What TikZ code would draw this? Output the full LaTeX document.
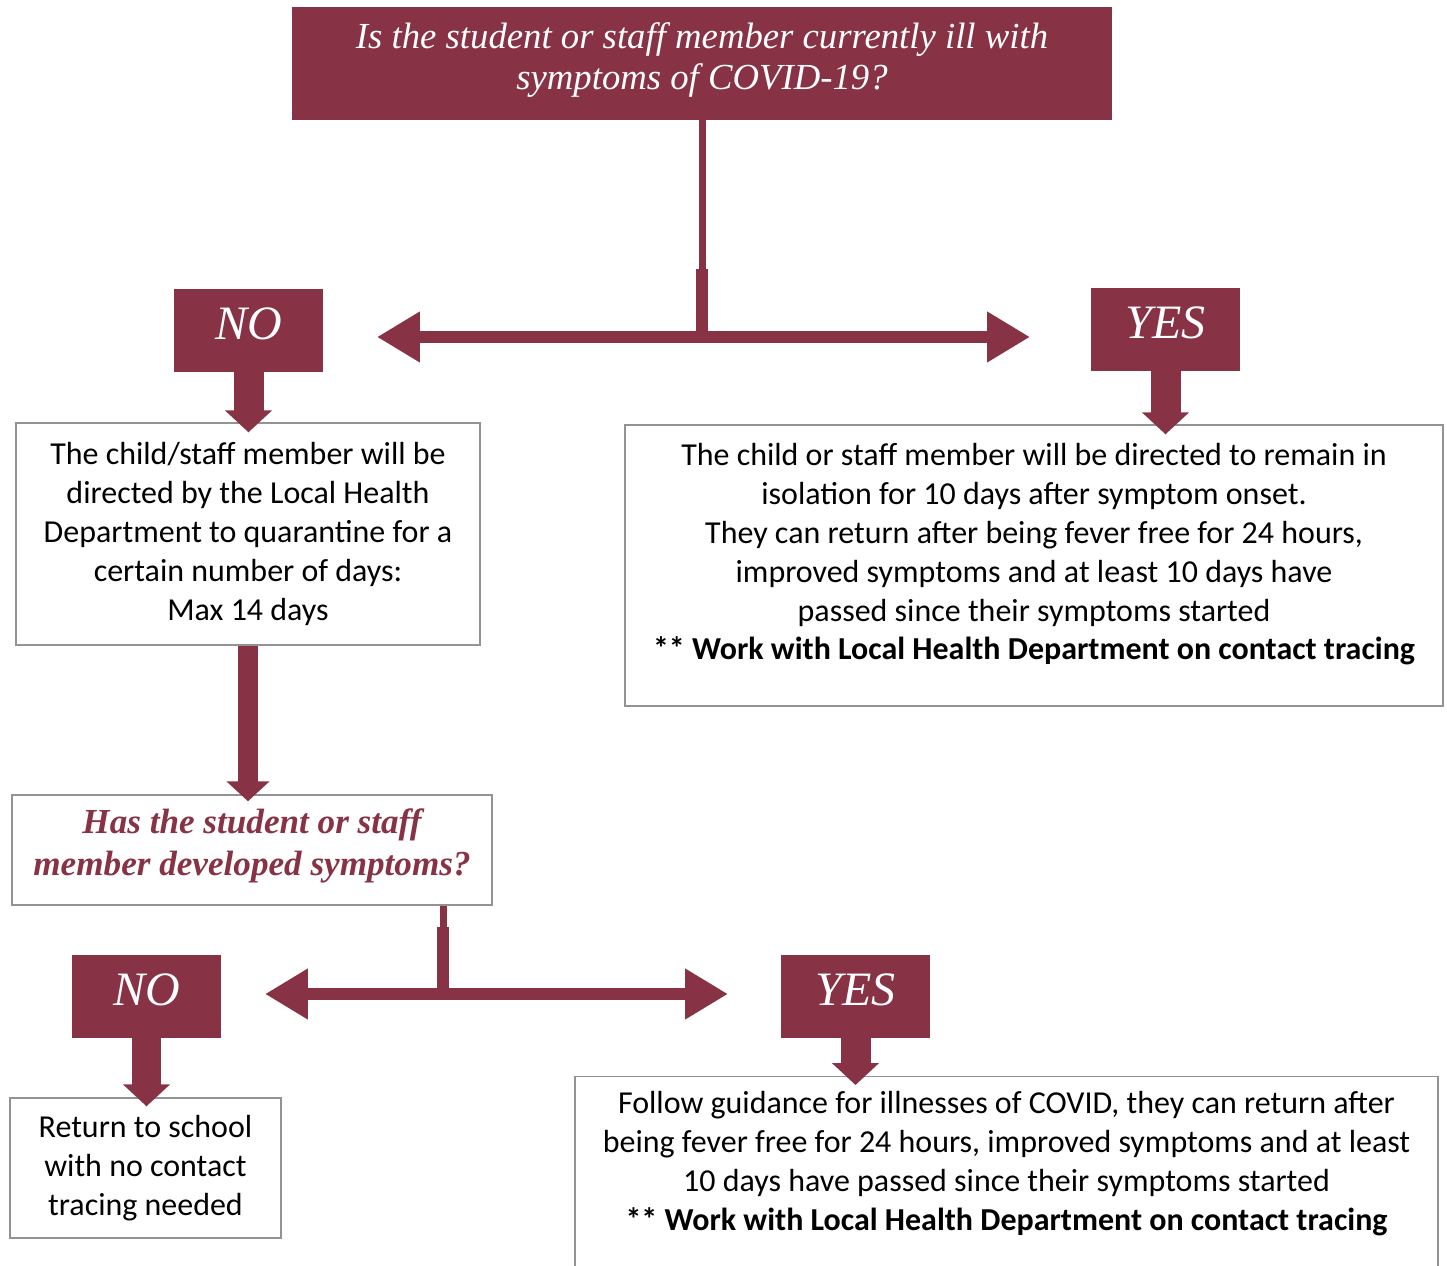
\documentclass[tikz,border=0pt]{standalone}
\usepackage{fontspec}
\setmainfont{Carlito}
\newfontfamily\headfont{Liberation Serif}
\usetikzlibrary{arrows.meta, positioning}
\definecolor{maroon}{HTML}{873245}

\begin{document}
\begin{tikzpicture}[
    x=0.02cm, y=-0.02cm,
    question/.style={fill=maroon, align=center, text=white, inner sep=0pt, minimum width=16.4cm, minimum height=2.26cm, font=\headfont\itshape\fontsize{20.9}{23.8}\selectfont},
    answer/.style={fill=maroon, inner sep=0pt, minimum width=2.98cm, minimum height=1.66cm, text depth=0.28cm, text=white, font=\headfont\itshape\fontsize{27.3}{30}\selectfont},
    infobox/.style={draw=gray!85, line width=0.8pt, fill=white, align=center, inner sep=0pt, font=\fontsize{18.2}{22.1}\selectfont},
    downarrow/.style={maroon, line width=0.6cm, -{Triangle[width=0.92cm, length=0.44cm]}},
    bigarrow/.style={maroon, line width=0.4cm, -{Triangle[width=0.84cm, length=0.4cm]}},
    splitarrow/.style={maroon, line width=0.24cm, {Triangle[width=0.96cm, length=0.86cm]}-{Triangle[width=0.96cm, length=0.86cm]}},
    thinstem/.style={maroon, line width=0.14cm},
    thickstem/.style={maroon, line width=0.24cm}
]
\useasboundingbox (0,0) rectangle (1447,1266);

% FIRST QUESTION
\node[question, text depth=0.3cm] (ill) at (702,63.5) {Is the student or staff member currently ill with\\symptoms of COVID-19?};

\node[answer] (no1) at (248.5,330.5) {NO};
\node[answer] (yes1) at (1165.5,329.5) {YES};

\node[infobox, minimum width=9.28cm, minimum height=4.44cm] (quarantine) at (248,534) {The child/staff member will be\\directed by the Local Health\\Department to quarantine for a\\certain number of days:\\Max 14 days};
\node[infobox, minimum width=16.36cm, minimum height=5.62cm, text depth=0.55cm] (isolate) at (1034,565.5) {The child or staff member will be directed to remain in\\isolation for 10 days after symptom onset.\\They can return after being fever free for 24 hours,\\improved symptoms and at least 10 days have\\passed since their symptoms started\\\textbf{** Work with Local Health Department on contact tracing}};

% FIRST SPLIT
\coordinate (split1) at (702,337);
\coordinate (tipno1) at (377,337);
\coordinate (tipyes1) at (1030,337);
\draw[thinstem] (ill.south) -- (702,275);
\draw[splitarrow] (tipno1) -- (tipyes1);
\draw[thickstem] (702,269) -- (split1);

\draw[downarrow, shorten >=-0.2cm] (no1.south) -- (no1.south |- quarantine.north);
\draw[downarrow, shorten >=-0.2cm] (yes1.south) -- (yes1.south |- isolate.north);

% SECOND QUESTION
\node[infobox, minimum width=9.6cm, minimum height=2.2cm, text depth=0.31cm, text=maroon, font=\headfont\bfseries\itshape\fontsize{20}{23.8}\selectfont] (developed) at (252,850) {Has the student or staff\\member developed symptoms?};
\draw[bigarrow, shorten >=-0.14cm] (quarantine.south) -- (quarantine.south |- developed.north);

\node[answer] (no2) at (146.5,996.5) {NO};
\node[answer] (yes2) at (855.5,996.5) {YES};

\node[infobox, minimum width=5.42cm, minimum height=2.8cm] (school) at (145.5,1168) {Return to school\\with no contact\\tracing needed};
\node[infobox, anchor=north, minimum width=17.26cm, inner ysep=0.3cm, text depth=2cm] (guidance) at (1006.5,1076) {Follow guidance for illnesses of COVID, they can return after\\being fever free for 24 hours, improved symptoms and at least\\10 days have passed since their symptoms started\\\textbf{** Work with Local Health Department on contact tracing}};

% SECOND SPLIT
\coordinate (split2) at (443,994);
\coordinate (tipno2) at (265,994);
\coordinate (tipyes2) at (728,994);
\draw[thinstem] (developed.south -| split2) -- (443,930);
\draw[splitarrow] (tipno2) -- (tipyes2);
\draw[thickstem] (443,927) -- (split2);

\draw[downarrow, shorten >=-0.18cm] (no2.south) -- (no2.south |- school.north);
\draw[downarrow, shorten >=-0.18cm] (yes2.south) -- (yes2.south |- guidance.north);

\end{tikzpicture}
\end{document}
